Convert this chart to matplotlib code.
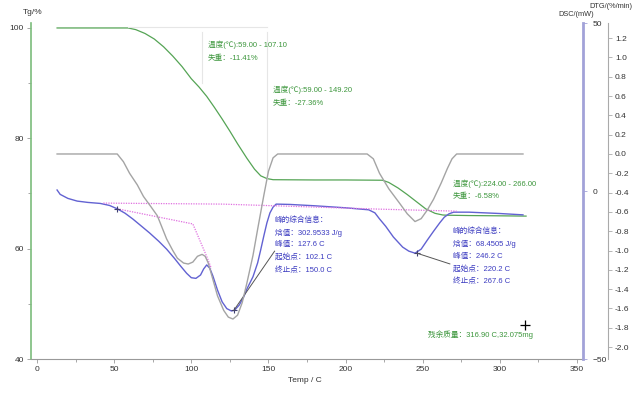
import matplotlib
matplotlib.use('Agg')
import matplotlib.pyplot as plt

plt.rcParams['font.family'] = ['Liberation Sans', 'Noto Sans CJK SC', 'DejaVu Sans']

# TG 曲线 (温度, 质量%)
tg_t = [13, 30, 45, 59, 64, 70, 76, 82, 88, 94, 100, 105, 110, 115, 120, 125, 130, 136,
        141, 145, 149, 153, 180, 200, 224, 228, 234, 240, 246, 252, 258, 263, 266, 280, 300, 317]
tg_v = [100, 100, 100, 100, 99.7, 99.0, 98.0, 96.6, 94.9, 93.0, 90.8, 89.3, 87.6, 85.6, 83.5,
        81.3, 79.0, 76.4, 74.4, 73.2, 72.7, 72.5, 72.45, 72.45, 72.4, 72.0, 71.0, 69.8, 68.5,
        67.2, 66.4, 66.1, 66.06, 66.0, 65.95, 65.9]

# DTG 曲线 (%/min)
dtg_t = [13, 52, 56, 60, 65, 69, 74, 78, 84, 88, 91, 95, 98, 101, 104, 107, 109, 111, 114,
         117, 121, 124, 127, 130, 133, 136, 140, 143, 147, 150, 153, 156, 214, 218, 222, 228,
         235, 240, 245, 249, 253, 257, 262, 266, 269, 272, 315]
dtg_v = [0, 0, -0.08, -0.2, -0.32, -0.44, -0.55, -0.64, -0.88, -1.0, -1.08, -1.13, -1.14,
         -1.12, -1.06, -1.04, -1.06, -1.13, -1.3, -1.47, -1.62, -1.69, -1.71, -1.67, -1.54,
         -1.34, -1.05, -0.78, -0.43, -0.18, -0.04, 0, 0, -0.05, -0.2, -0.36, -0.51, -0.62,
         -0.70, -0.67, -0.58, -0.47, -0.3, -0.15, -0.05, 0, 0]

# DSC 曲线 (mW)
dsc_t = [13, 15, 20, 26, 33, 41, 47, 52, 57, 62, 67, 73, 79, 84, 89, 93, 97, 100, 103, 106,
         108, 110, 112, 114, 117, 120, 123, 126, 128, 131, 134, 136, 140, 143, 145, 147, 149,
         151, 153, 155, 164, 180, 200, 215, 219, 222, 226, 231, 237, 241, 245, 249, 253, 257,
         261, 264, 267, 270, 280, 300, 315]
dsc_v = [0.3, -1.0, -2.2, -3.0, -3.4, -3.7, -4.3, -5.3, -6.6, -8.3, -10.2, -12.5, -15.0,
         -17.3, -20.0, -22.3, -24.5, -25.8, -26.0, -25.0, -23.2, -22.0, -23.0, -25.3, -29.5,
         -33.0, -35.0, -35.7, -35.5, -34.0, -31.5, -29.2, -25.5, -21.4, -17.5, -13.4, -9.5,
         -6.5, -4.8, -3.9, -4.0, -4.4, -5.0, -5.6, -6.5, -8.3, -10.5, -13.7, -16.7, -17.9,
         -18.5, -17.3, -14.6, -12.0, -9.5, -7.8, -6.8, -6.3, -6.3, -6.7, -7.1]

# 基线 (虚线)
base1_t = [43, 120, 222, 272]
base1_v = [-3.6, -3.9, -5.4, -6.0]
base2_t = [52, 101, 110, 113]
base2_v = [-5.3, -9.8, -19.5, -23.0]

# 峰标记
peak_t = [52, 127.6, 246.2]
peak_v = [-5.3, -35.5, -18.5]

green = '#55a455'
gtext = '#3c963c'
btext = '#3a3ac0'
blue = '#6262d2'
gray = '#a4a4a4'

fig = plt.figure(figsize=(6.4, 3.96), dpi=100)
ax = fig.add_axes([31/640, 1-359/396, 552/640, 336/396])
ax_dsc = ax.twinx()
ax_dtg = ax.twinx()

ax.plot(tg_t, tg_v, color=green, lw=0.9)
ax_dtg.plot(dtg_t, dtg_v, color=gray, lw=1.0)
ax_dsc.plot(dsc_t, dsc_v, color=blue, lw=1.0)
ax_dsc.plot(base1_t, base1_v, color='#e070e0', lw=0.9, ls=(0, (1, 1)))
ax_dsc.plot(base2_t, base2_v, color='#e070e0', lw=0.9, ls=(0, (1, 1)))
ax_dsc.plot(peak_t, peak_v, ls='none', marker='+', color='#404070', ms=4, mew=0.8)
# 指引线
ax_dsc.plot([127.6, 154], [-35.5, -17.9], color='#555555', lw=0.7)
ax_dsc.plot([246.2, 267.6], [-18.5, -21.7], color='#555555', lw=0.7)

# 失重区间的细线
ax.plot([59, 149.2], [100.2, 100.2], color='#e6e6e6', lw=0.8)
ax.plot([107.1, 107.1], [99.2, 90.0], color='#e6e6e6', lw=0.8)
ax.plot([149.2, 149.2], [99.2, 72.6], color='#e6e6e6', lw=0.8)

ax.set_xlim(-3.9, 353.9)
ax.set_ylim(40, 100.9)
ax_dsc.set_ylim(-50, 50)
ax_dtg.set_ylim(-2.124, 1.357)

ax.set_xticks(range(0, 351, 50))
ax.set_xticks(range(25, 351, 50), minor=True)
ax.set_yticks([40, 60, 80, 100])
ax.set_yticks([50, 70, 90], minor=True)
ax_dsc.set_yticks([-50, 0, 50])
dtg_ticks = [1.2, 1.0, 0.8, 0.6, 0.4, 0.2, 0.0, -0.2, -0.4, -0.6, -0.8, -1.0,
             -1.2, -1.4, -1.6, -1.8, -2.0]
ax_dtg.set_yticks(dtg_ticks)
ax_dtg.set_yticklabels(['%.1f' % v for v in dtg_ticks])

for a in (ax, ax_dsc, ax_dtg):
    a.tick_params(which='both', labelsize=6, colors='#333333', length=3, width=0.6)
    a.tick_params(which='minor', length=2)
    a.spines['top'].set_visible(False)
ax.spines['right'].set_visible(False)
ax.spines['left'].set_color('#7cbc7c')
ax.spines['left'].set_linewidth(1.2)
ax.spines['bottom'].set_color('#999999')
ax.spines['bottom'].set_linewidth(0.8)
ax.tick_params(axis='both', which='both', color='#999999', pad=2)
for s in ('left', 'bottom'):
    ax_dsc.spines[s].set_visible(False)
    ax_dtg.spines[s].set_visible(False)
ax_dsc.spines['right'].set_color('#a2a2d8')
ax_dsc.spines['right'].set_linewidth(2)
ax_dsc.tick_params(axis='y', color='#a2a2d8', pad=4)
ax_dtg.spines['right'].set_position(('axes', 1 + 25/552))
ax_dtg.spines['right'].set_color('#aaaaaa')
ax_dtg.spines['right'].set_linewidth(0.8)
ax_dtg.spines['right'].set_bounds(-2.124, 1.357)
ax_dtg.tick_params(axis='y', color='#aaaaaa', pad=2)

fs = 5.5
ax.text(110.8, 96.9, '温度(℃):59.00 - 107.10', color=gtext, fontsize=fs, va='center')
ax.text(110.8, 94.4, '失重：-11.41%', color=gtext, fontsize=fs, va='center')
ax.text(153, 88.8, '温度(℃):59.00 - 149.20', color=gtext, fontsize=fs, va='center')
ax.text(153, 86.2, '失重：-27.36%', color=gtext, fontsize=fs, va='center')
ax.text(269.6, 71.7, '温度(℃):224.00 - 266.00', color=gtext, fontsize=fs, va='center')
ax.text(269.6, 69.4, '失重：-6.58%', color=gtext, fontsize=fs, va='center')
ax.text(253.4, 44.5, '残余质量：316.90 C,32.075mg', color=gtext, fontsize=fs, va='center')

peak1 = ['峰的综合信息：', '焓值：302.9533 J/g', '峰值：127.6 C', '起始点：102.1 C', '终止点：150.0 C']
peak1_y = [65.2, 62.8, 60.7, 58.5, 56.1]
for s, y in zip(peak1, peak1_y):
    ax.text(154.2, y, s, color=btext, fontsize=fs, va='center')
peak2 = ['峰的综合信息：', '焓值：68.4505 J/g', '峰值：246.2 C', '起始点：220.2 C', '终止点：267.6 C']
peak2_y = [63.2, 60.8, 58.5, 56.3, 54.1]
for s, y in zip(peak2, peak2_y):
    ax.text(269.6, y, s, color=btext, fontsize=fs, va='center')

ax.plot([316.2], [46.2], marker='+', color='black', ms=7, mew=0.9)

fig.text(33/640, 1-12/396, 'Tg/%', fontsize=6, color='#333333', ha='center', va='center')
fig.text(632/640, 1-6/396, 'DTG/(%/min)', fontsize=5.3, color='#333333', ha='right', va='center')
fig.text(594/640, 1-14/396, 'DSC/(mW)', fontsize=5.3, color='#333333', ha='right', va='center')
fig.text(305/640, 1-380/396, 'Temp / C', fontsize=6, color='#333333', ha='center', va='center')

fig.savefig('out.png', dpi=100)
